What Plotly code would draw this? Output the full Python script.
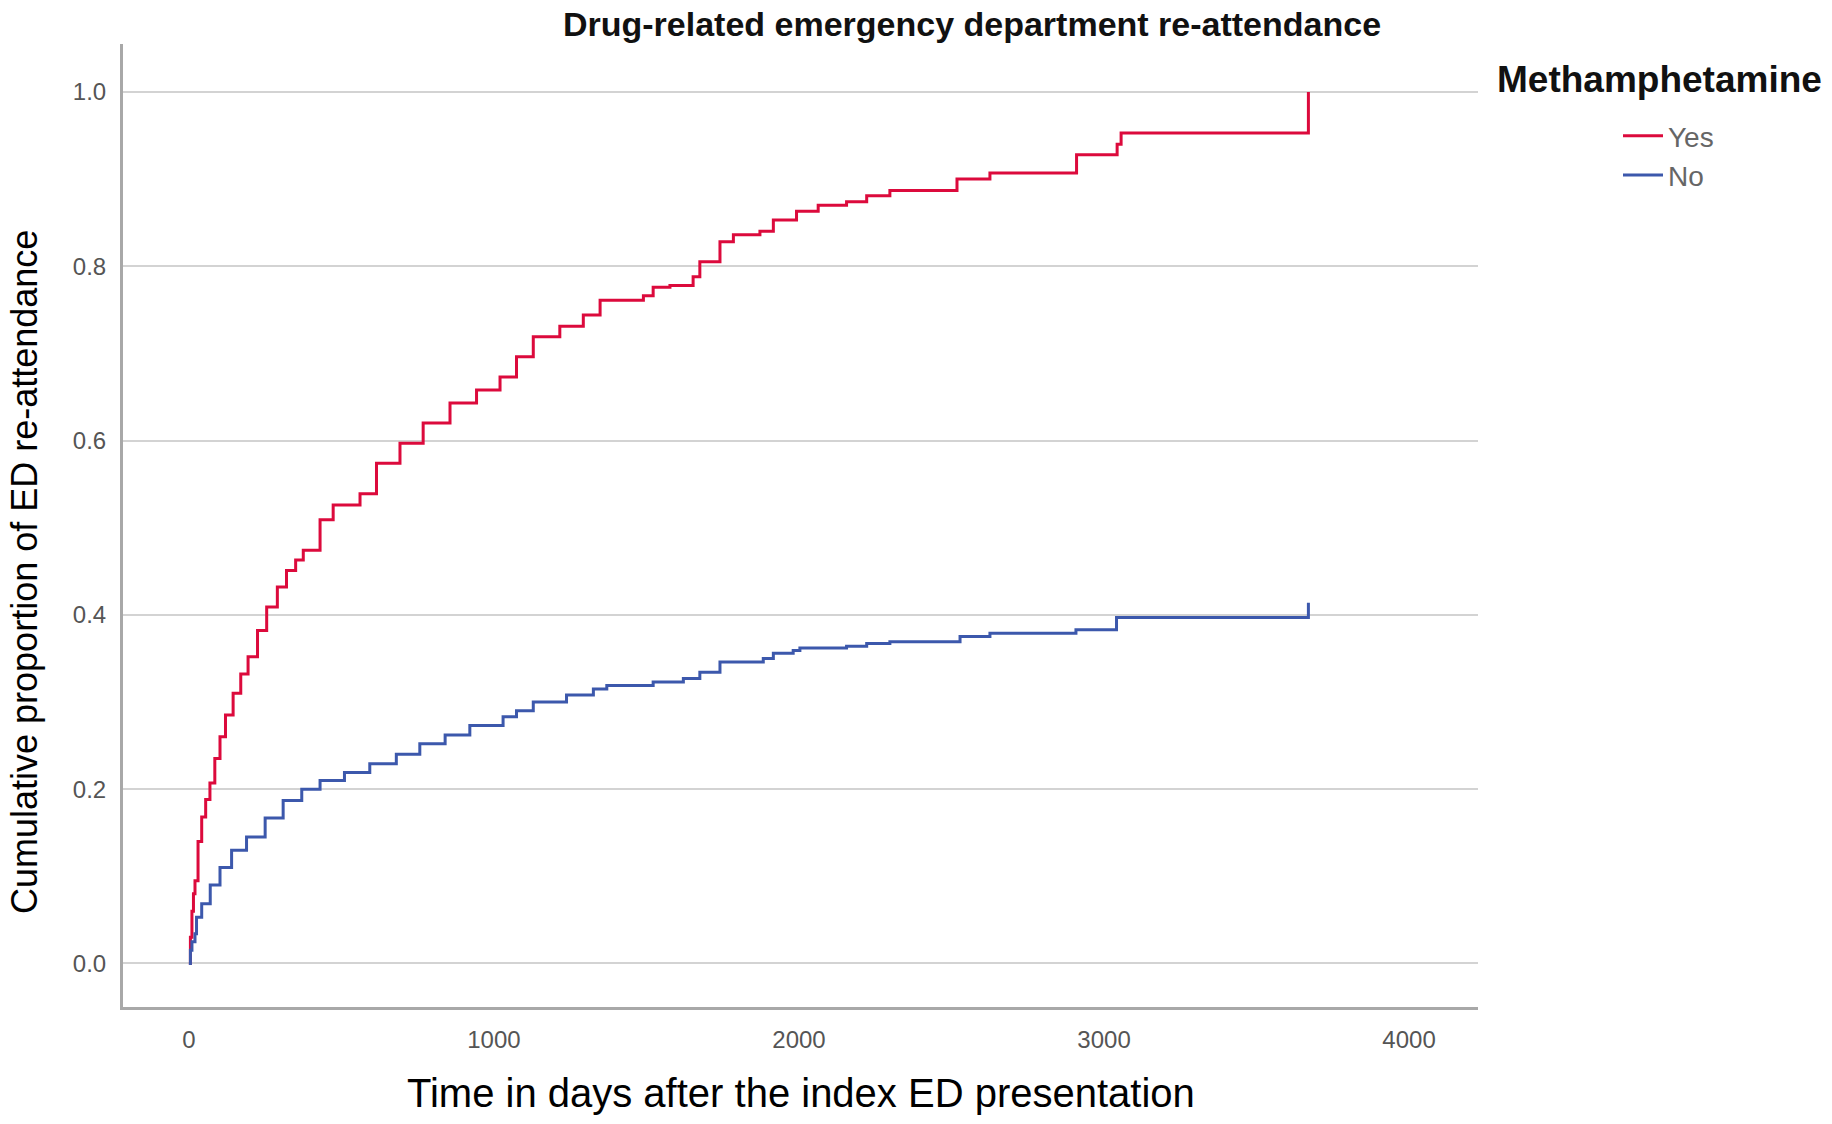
import plotly.graph_objects as go

# ---- data (days, cumulative proportion) ----
yes_days = [0, 5, 10, 15, 20, 30, 42, 55, 69, 85, 102, 120, 145, 170, 194, 225, 255, 290, 320, 350,
            375, 430, 473, 561, 615, 692, 768, 856, 943, 1020, 1074, 1129, 1216, 1293, 1348,
            1490, 1522, 1577, 1653, 1675, 1741, 1785, 1872, 1916, 1992, 2063, 2156, 2222, 2298,
            2518, 2626, 2910, 3043, 3056, 3670]
yes_prop = [0.0, 0.03, 0.06, 0.08, 0.095, 0.14, 0.168, 0.188, 0.207, 0.235, 0.26, 0.285, 0.31, 0.332,
            0.352, 0.382, 0.409, 0.432, 0.451, 0.463, 0.474, 0.509, 0.526, 0.539, 0.574, 0.597,
            0.620, 0.643, 0.658, 0.673, 0.696, 0.719, 0.731, 0.744, 0.761, 0.766, 0.776, 0.778,
            0.788, 0.805, 0.828, 0.836, 0.840, 0.853, 0.863, 0.870, 0.874, 0.881, 0.887, 0.900,
            0.907, 0.928, 0.940, 0.953, 1.0]

no_days = [0, 5, 10, 20, 25, 42, 70, 102, 140, 189, 250, 309, 370, 430, 510, 593, 680, 757, 840,
           921, 1030, 1074, 1129, 1238, 1326, 1370, 1522, 1621, 1675, 1741, 1883, 1916, 1981,
           2003, 2156, 2222, 2298, 2528, 2626, 2908, 3041, 3670]
no_prop = [0.0, 0.015, 0.025, 0.034, 0.053, 0.0685, 0.09, 0.11, 0.13, 0.145, 0.167, 0.187, 0.20,
           0.21, 0.219, 0.229, 0.24, 0.252, 0.262, 0.273, 0.283, 0.29, 0.30, 0.308, 0.315, 0.319,
           0.323, 0.327, 0.334, 0.346, 0.350, 0.356, 0.359, 0.362, 0.364, 0.367, 0.369, 0.375,
           0.379, 0.383, 0.397, 0.414]

series_names = ["Yes", "No"]
series_colors = ["#DC0A3C", "#3C58AC"]
x_ticks = [0, 1000, 2000, 3000, 4000]
y_ticks = [0.0, 0.2, 0.4, 0.6, 0.8, 1.0]

FONT = "Liberation Sans, Arial, sans-serif"

fig = go.Figure()
for name, xs, ys, col in zip(series_names, [yes_days, no_days], [yes_prop, no_prop], series_colors):
    fig.add_trace(go.Scatter(x=xs, y=ys, mode="lines", name=name,
                             line=dict(color=col, width=3, shape="hv")))

# page body has an 8px margin; figure sized to fit the 1832x1124 viewport
W, H = 1816, 1108
ML, MR, MT, MB = 115, 346, 36, 109
PW, PH = W - ML - MR, H - MT - MB


def px_x(px):  # figure pixel -> paper x
    return (px - ML) / PW


def px_y(py):  # figure pixel -> paper y
    return 1 - (py - MT) / PH


fig.update_layout(
    width=W, height=H,
    paper_bgcolor="white", plot_bgcolor="white",
    margin=dict(l=ML, r=MR, t=MT, b=MB),
    font=dict(family=FONT, color="#000"),
    title=dict(text="<b>Drug-related emergency department re-attendance</b>",
               x=964 / W, xanchor="center", xref="container",
               y=1 - 16 / H, yanchor="middle", yref="container",
               font=dict(size=34, color="#111", family=FONT)),
    legend=dict(font=dict(size=28, color="#666"),
                xref="container", yref="container",
                x=1485 / W, xanchor="left", y=1 - 103 / H, yanchor="top",
                indentation=125, itemwidth=40, tracegroupgap=0,
                bgcolor="rgba(0,0,0,0)"),
    annotations=[
        dict(text="<b>Methamphetamine</b>", xref="paper", yref="paper",
             x=px_x(1487), xanchor="left", y=px_y(71), yanchor="middle",
             showarrow=False, font=dict(size=37, color="#111")),
        dict(text="Cumulative proportion of ED re-attendance", textangle=-90,
             xref="paper", yref="paper",
             x=px_x(16), xanchor="center", y=px_y(564), yanchor="middle",
             showarrow=False, font=dict(size=36, color="#000")),
        dict(text="Time in days after the index ED presentation",
             xref="paper", yref="paper",
             x=0.5, xanchor="center", y=px_y(1085), yanchor="middle",
             showarrow=False, font=dict(size=40, color="#000")),
    ],
    xaxis=dict(range=[-216, 4226], tickvals=x_ticks, ticktext=[str(v) for v in x_ticks],
               showgrid=False, zeroline=False, showline=True, linecolor="#A8A8A8", linewidth=3,
               ticks="", ticklabelstandoff=9, automargin=False,
               tickfont=dict(size=24, color="#555")),
    yaxis=dict(range=[-0.05, 1.055], tickvals=y_ticks, tickformat=".1f",
               showgrid=True, gridcolor="#D3D3D3", gridwidth=2,
               zeroline=False, showline=True, linecolor="#A8A8A8", linewidth=3,
               ticks="", ticklabelstandoff=9, automargin=False,
               tickfont=dict(size=24, color="#555")),
)

fig.write_html("out.html")
